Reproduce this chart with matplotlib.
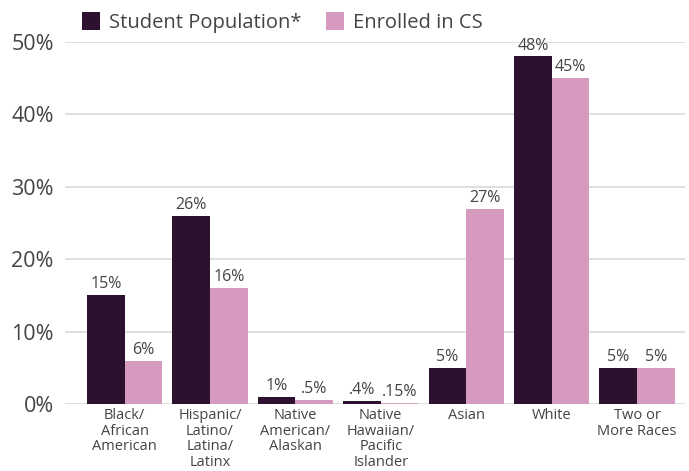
import matplotlib
matplotlib.use("Agg")
import matplotlib.pyplot as plt
import numpy as np

categories = ["Black/\nAfrican\nAmerican", "Hispanic/\nLatino/\nLatina/\nLatinx",
              "Native\nAmerican/\nAlaskan", "Native\nHawaiian/\nPacific\nIslander",
              "Asian", "White", "Two or\nMore Races"]
student_pop = [15, 26, 1, 0.4, 5, 48, 5]
enrolled_cs = [6, 16, 0.5, 0.15, 27, 45, 5]
student_labels = ["15%", "26%", "1%", ".4%", "5%", "48%", "5%"]
enrolled_labels = ["6%", "16%", ".5%", ".15%", "27%", "45%", "5%"]
yticks = [0, 10, 20, 30, 40, 50]
ytick_labels = ["0%", "10%", "20%", "30%", "40%", "50%"]

dark = "#2d1230"
pink = "#d59abd"
textc = "#444444"

plt.rcParams['font.family'] = ['Open Sans', 'DejaVu Sans']

fig = plt.figure(figsize=(6.89, 4.71), dpi=100)
ax = fig.add_axes([0.094, 0.1423, 0.9, 0.7685])

x = np.arange(len(categories))
w = 0.44
b1 = ax.bar(x - w/2, student_pop, w, color=dark, label="Student Population*", zorder=3)
b2 = ax.bar(x + w/2, enrolled_cs, w, color=pink, label="Enrolled in CS", zorder=3)

for xi, v, lab in zip(x - w/2, student_pop, student_labels):
    ax.text(xi, v + 0.4, lab, ha="center", va="bottom", fontsize=11.5, color=textc, clip_on=False)
for xi, v, lab in zip(x + w/2, enrolled_cs, enrolled_labels):
    ax.text(xi, v + 0.4, lab, ha="center", va="bottom", fontsize=11.5, color=textc, clip_on=False)

ax.set_ylim(0, 50)
ax.set_xlim(-0.7, 6.56)
ax.set_yticks(yticks)
ax.set_yticklabels(ytick_labels, fontsize=15.5, color=textc)
ax.set_xticks(x)
ax.set_xticklabels(categories, fontsize=10.5, color=textc, linespacing=1.05)
ax.tick_params(axis="both", length=0)
ax.tick_params(axis="y", pad=8)
ax.tick_params(axis="x", pad=3)
ax.yaxis.grid(True, color="#d9d9d9", linewidth=1.2, zorder=0)
ax.set_axisbelow(True)
for s in ax.spines.values():
    s.set_visible(False)

fig.legend(handles=[b1, b2], loc="upper left", bbox_to_anchor=(0.093, 1.012), ncol=2,
           frameon=False, fontsize=14.5, handlelength=0.9, handleheight=1.0,
           handletextpad=0.45, columnspacing=1.2, labelcolor=textc)

fig.savefig("out.png", dpi=100)
